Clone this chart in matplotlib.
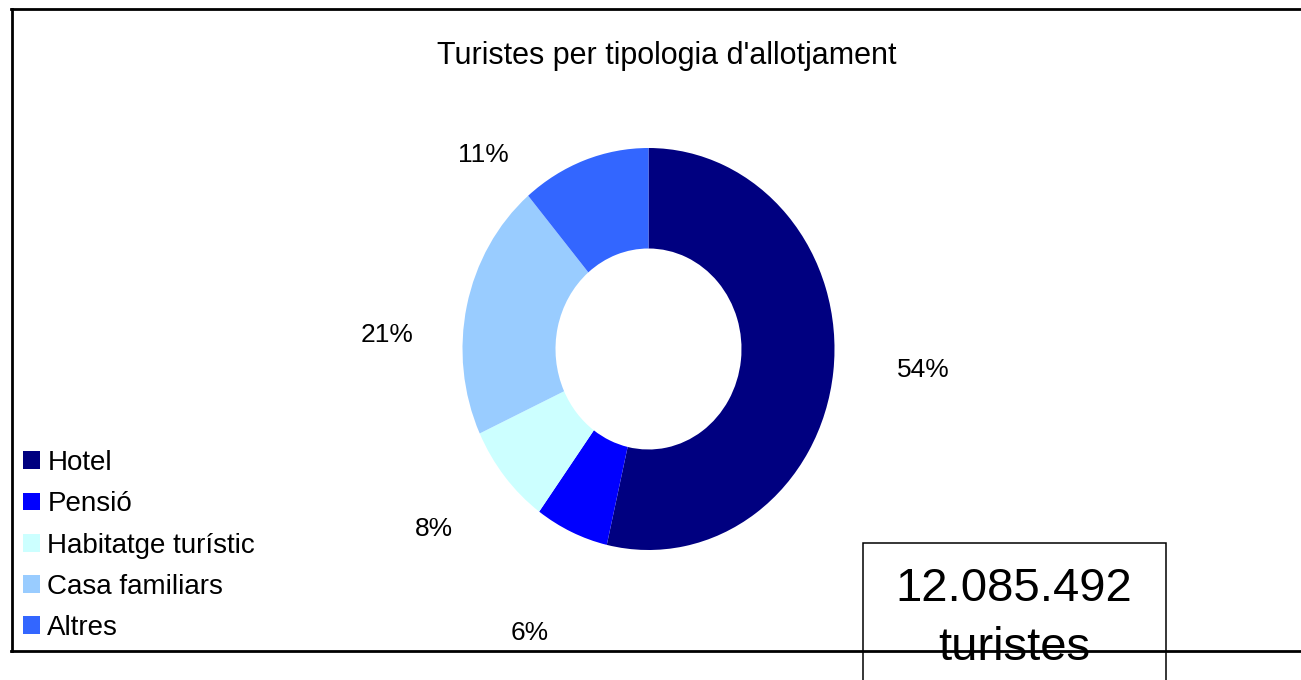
import numpy as np
import matplotlib
matplotlib.use('Agg')
import matplotlib.pyplot as plt
from matplotlib.patches import Rectangle
from matplotlib.lines import Line2D

plt.rcParams['font.family'] = ['Liberation Sans', 'DejaVu Sans']

# data
categories = ['Hotel', 'Pensió', 'Habitatge turístic', 'Casa familiars', 'Altres']
shares = [53.6, 6.4, 8.1, 20.7, 11.2]
pct_labels = ['54%', '6%', '8%', '21%', '11%']
colors = ['#000080', '#0000FF', '#CCFFFF', '#99CCFF', '#3366FF']
title = "Turistes per tipologia d'allotjament"
total_num = '12.085.492'
total_unit = 'turistes'

# excel style label placement: radius and angle nudge (deg)
lab_r = [1.48, 1.54, 1.45, 1.41, 1.32]
lab_shift = [3, 0, -2, 9, 22]

W, H = 1301, 680
fig = plt.figure(figsize=(W / 100, H / 100), dpi=100)

def fx(px):
    return px / W

def fy(py):
    return 1 - py / H

# donut (slightly taller than wide, like the original)
ax = fig.add_axes([fx(648.5 - 186), fy(349 + 201), 372 / W, 402 / H])
wedges, _ = ax.pie(shares, colors=colors, startangle=90, counterclock=False,
                   radius=1, wedgeprops=dict(width=0.5, linewidth=0))
ax.set_aspect('auto')
ax.set_xlim(-1, 1)
ax.set_ylim(-1, 1)
ax.axis('off')

for w, lab, r, s in zip(wedges, pct_labels, lab_r, lab_shift):
    mid = np.deg2rad((w.theta1 + w.theta2) / 2 + s)
    ax.annotate(lab, (r * np.cos(mid), r * np.sin(mid)), xytext=(0, -6.8),
                textcoords='offset points', ha='center', va='baseline',
                fontsize=19, annotation_clip=False)

# frame (left, top, bottom; right side is cut off)
lw = 2.0
fig.add_artist(Line2D([fx(12), fx(12)], [fy(9), fy(651)], color='black', lw=lw,
                      transform=fig.transFigure))
fig.add_artist(Line2D([fx(11), 1], [fy(9), fy(9)], color='black', lw=lw,
                      transform=fig.transFigure))
fig.add_artist(Line2D([fx(11), 1], [fy(651), fy(651)], color='black', lw=lw,
                      transform=fig.transFigure))

fig.text(fx(667), fy(64), title, ha='center', va='baseline', fontsize=22)

fig.legend(wedges, categories, loc='upper left', bbox_to_anchor=(fx(22.7), fy(450)),
           frameon=False, fontsize=20, handlelength=0.61, handleheight=0.61,
           handletextpad=0.28, labelspacing=0.55, borderpad=0, borderaxespad=0)

# total box
fig.add_artist(Rectangle((fx(862.7), fy(700)), (1166 - 862.7) / W, (700 - 542.7) / H,
                         transform=fig.transFigure, facecolor='white',
                         edgecolor='black', lw=1.1, clip_on=False))
fig.text(fx(1014), fy(601), total_num, ha='center', va='baseline', fontsize=34)
fig.text(fx(1014), fy(660), total_unit, ha='center', va='baseline', fontsize=34)

fig.savefig('out.png', dpi=100, facecolor='white')
